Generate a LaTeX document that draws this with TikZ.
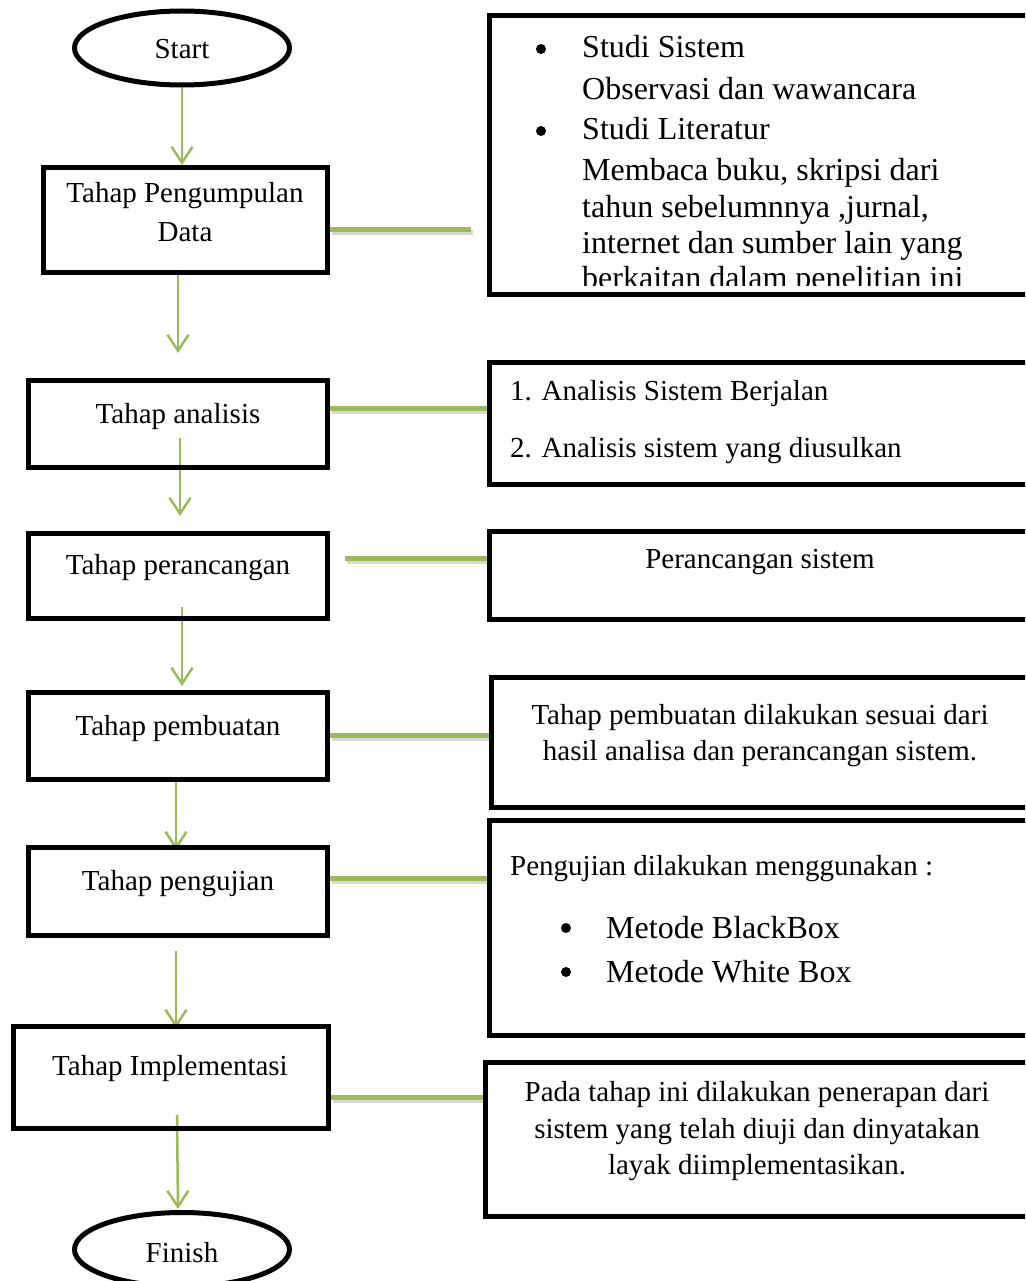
\documentclass[tikz,border=0pt]{standalone}
\usepackage{fontspec}
\setmainfont{Liberation Serif}
\usetikzlibrary{shapes.geometric,arrows.meta,backgrounds}
\definecolor{og}{HTML}{9BBB59}
\tikzset{
  lbox/.style={draw=black, line width=5pt, rectangle, inner sep=0pt, anchor=north west},
  term/.style={draw=black, line width=5pt, ellipse, inner sep=0pt, minimum width=215pt, minimum height=74pt},
  txt/.style={font=\fontsize{29}{35}\selectfont, inner sep=0pt, anchor=base},
  txtl/.style={txt, anchor=base west},
  big/.style={font=\fontsize{32}{38}\selectfont, inner sep=0pt, anchor=base west},
  bul/.style={circle, fill=black, inner sep=0pt, minimum size=10pt},
  flow/.style={draw=og, line width=2.5pt, -{Straight Barb[length=16pt,width=21pt,line width=2.5pt]}},
  link/.style={draw=og, line width=5pt},
  shadowline/.style={draw=black!30, line width=5pt, opacity=.5, transform canvas={xshift=2pt,yshift=-3pt}},
}
\begin{document}
\begin{tikzpicture}[x=1pt,y=-1pt]
\useasboundingbox (0,0) rectangle (1025,1281);
\clip (0,0) rectangle (1025,1281);
% ---------- left column ----------
\node[term] (start) at (182,48) {};
\node[txt] (tstart) at (182,59) {Start};
\node[lbox, minimum width=284, minimum height=105] (b1) at (41,165) {};
\node[txt] (tb1a) at (185,203) {Tahap Pengumpulan};
\node[txt] (tb1b) at (185,241) {Data};
\node[lbox, minimum width=299, minimum height=87] (b2) at (26,378) {};
\node[txt] (tb2) at (178,423) {Tahap analisis};
\node[lbox, minimum width=299, minimum height=85] (b3) at (26,531) {};
\node[txt] (tb3) at (178,574) {Tahap perancangan};
\node[lbox, minimum width=299, minimum height=87] (b4) at (26,690) {};
\node[txt] (tb4) at (178,735) {Tahap pembuatan};
\node[lbox, minimum width=299, minimum height=88] (b5) at (26,845) {};
\node[txt] (tb5) at (178,890) {Tahap pengujian};
\node[lbox, minimum width=315, minimum height=102] (b6) at (11,1024) {};
\node[txt] (tb6) at (170,1075) {Tahap Implementasi};
\node[term] (finish) at (182,1249.5) {};
\node[txt] (tfinish) at (182,1262) {Finish};
% ---------- right column ----------
\node[lbox, minimum width=560, minimum height=279] (r1) at (487,13) {};
\begin{scope}
  \clip (489,15) rectangle (1025,285);
  \node[bul] (r1b1) at (541,49) {};
  \node[big] (r1l1) at (582,58) {Studi Sistem};
  \node[big] (r1l2) at (582,100) {Observasi dan wawancara};
  \node[bul] (r1b2) at (541,131) {};
  \node[big] (r1l3) at (582,140) {Studi Literatur};
  \node[big] (r1l4) at (582,181) {Membaca buku, skripsi dari};
  \node[big] (r1l5) at (582,218) {tahun sebelumnnya ,jurnal,};
  \node[big] (r1l6) at (582,254) {internet dan sumber lain yang};
  \node[big] (r1l7) at (582,288) {berkaitan dalam penelitian ini};
\end{scope}
\node[lbox, minimum width=560, minimum height=122] (r2) at (487,360) {};
\node[txtl] (r2l1) at (510,400) {1. Analisis Sistem Berjalan};
\node[txtl] (r2l2) at (510,457) {2. Analisis sistem yang diusulkan};
\node[lbox, minimum width=560, minimum height=88] (r3) at (487,529) {};
\node[txt] (r3l1) at (760,568) {Perancangan sistem};
\node[lbox, minimum width=560, minimum height=130] (r4) at (489,675) {};
\node[txt] (r4l1) at (760,724) {Tahap pembuatan dilakukan sesuai dari};
\node[txt] (r4l2) at (760,760) {hasil analisa dan perancangan sistem.};
\node[lbox, minimum width=560, minimum height=215] (r5) at (487,818) {};
\node[txtl] (r5l1) at (510,875) {Pengujian dilakukan menggunakan :};
\node[bul] (r5b1) at (566,928) {};
\node[big] (r5l2) at (606,938) {Metode BlackBox};
\node[bul] (r5b2) at (566,972) {};
\node[big] (r5l3) at (606,982) {Metode White Box};
\node[lbox, minimum width=560, minimum height=154] (r6) at (483,1060) {};
\node[txt] (r6l1) at (757,1101) {Pada tahap ini dilakukan penerapan dari};
\node[txt] (r6l2) at (757,1138) {sistem yang telah diuji dan dinyatakan};
\node[txt] (r6l3) at (757,1174) {layak diimplementasikan.};
% ---------- connectors ----------
\coordinate (p2) at (178,353);
\coordinate (p3s) at (180,438);
\coordinate (p3) at (180,516);
\coordinate (p4s) at (182,607);
\coordinate (p4) at (182,686);
\coordinate (p5s) at (176,779);
\coordinate (p5) at (176,850);
\coordinate (p6s) at (176,951);
\coordinate (p6) at (176,1028);
\coordinate (p7s) at (177,1115);
\coordinate (c1) at (471,230);
\coordinate (c2) at (0,408);
\coordinate (c3) at (345,558);
\coordinate (c4) at (0,735);
\coordinate (c5) at (0,878);
\coordinate (c6) at (0,1097);
\begin{pgfonlayer}{background}
  \draw[shadowline] (c1 -| b1.east) -- (c1);
  \draw[shadowline] (c2 -| b2.east) -- (c2 -| r2.west);
  \draw[shadowline] (c3) -- (c3 -| r3.west);
  \draw[shadowline] (c4 -| b4.east) -- (c4 -| r4.west);
  \draw[shadowline] (c5 -| b5.east) -- (c5 -| r5.west);
  \draw[shadowline] (c6 -| b6.east) -- (c6 -| r6.west);
  \draw[link] (c1 -| b1.east) -- (c1);
  \draw[link] (c2 -| b2.east) -- (c2 -| r2.west);
  \draw[link] (c3) -- (c3 -| r3.west);
  \draw[link] (c4 -| b4.east) -- (c4 -| r4.west);
  \draw[link] (c5 -| b5.east) -- (c5 -| r5.west);
  \draw[link] (c6 -| b6.east) -- (c6 -| r6.west);
  \draw[flow] (start.south) -- (start.south |- b1.north);
  \draw[flow] (p2 |- b1.south) -- (p2);
  \draw[flow] (p3s) -- (p3);
  \draw[flow] (p4s) -- (p4);
  \draw[flow] (p5s) -- (p5);
  \draw[flow] (p6s) -- (p6);
  \draw[flow] (p7s) -- (178,1209);
\end{pgfonlayer}
\end{tikzpicture}
\end{document}
